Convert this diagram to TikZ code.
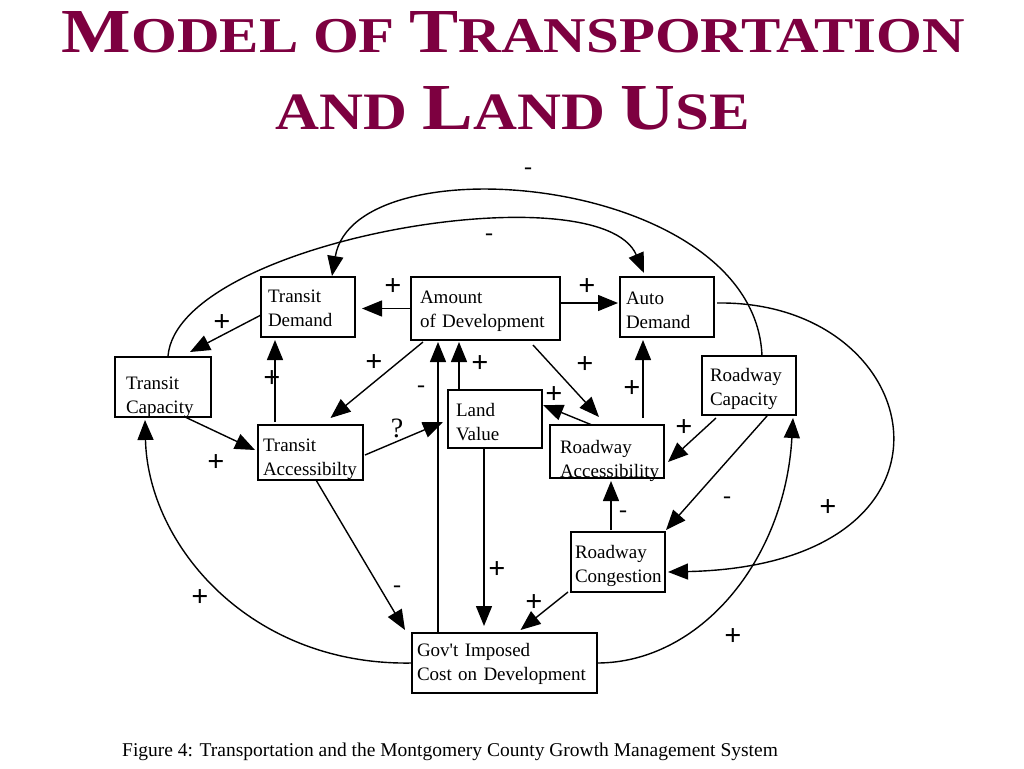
\documentclass[tikz,border=0pt]{standalone}
\usepackage{fontspec}
\setmainfont{Liberation Serif}[Ligatures=TeXOff]
\usepackage{graphicx}
\usetikzlibrary{arrows.meta,calc}
\definecolor{titlered}{RGB}{125,0,64}
\newcommand{\TitleCap}[1]{{\fontsize{50}{50}\selectfont #1}}
\newcommand{\TitleSc}[1]{{\fontsize{40}{40}\selectfont #1}}
\tikzset{
  factor/.style n args={4}{rectangle, draw, line width=2.2pt, anchor=north west, outer sep=0pt,
    inner xsep=1pt, inner ysep=0pt, minimum width=#1pt, minimum height=#2pt,
    text width={(#1-2*#3)*1pt}, align=left, text height={(20+#4)*1pt}, text depth={(20-#4)*1pt},
    font=\fontsize{19}{24}\selectfont},
  link/.style={line width=1.4pt, -{Triangle[length=20pt,width=16pt]}},
  poslabel/.style={font=\fontsize{30}{30}\selectfont\bfseries, inner sep=0pt},
  neglabel/.style={font=\fontsize{24}{24}\selectfont, inner sep=0pt},
}

\begin{document}
\begin{tikzpicture}[x=1pt,y=-1pt]
\fill[white] (0,0) rectangle (1024,768);
\useasboundingbox (0,0) rectangle (1024,768);

% title and caption
\node[inner sep=0pt, text=titlered] (title1) at (513.5,32.5)
  {\resizebox{903pt}{41pt}{\bfseries\TitleCap{M}\TitleSc{ODEL OF }\TitleCap{T}\TitleSc{RANSPORTATION}}};
\node[inner sep=0pt, text=titlered] (title2) at (513,108.5)
  {\resizebox{474pt}{43pt}{\bfseries\TitleSc{AND }\TitleCap{L}\TitleSc{AND }\TitleCap{U}\TitleSc{SE}}};
\node[anchor=base west, inner sep=0pt, font=\fontsize{19.5}{20}\selectfont] (caption) at (122,756)
  {Figure 4: Transportation and the Montgomery County Growth Management System};

% factors
\node[factor={94}{60}{7}{-4.5}] (tdemand) at (261,277) {Transit\\Demand};
\node[factor={149}{63}{9}{-5.5}] (amount) at (411,277) {Amount\\of Development};
\node[factor={94}{60}{6}{-3}] (ademand) at (620,277) {Auto\\Demand};
\node[factor={96}{60}{11}{2}] (tcap) at (115,357) {Transit\\Capacity};
\node[factor={94}{58}{8}{-3}] (land) at (448,390) {Land\\Value};
\node[factor={94}{59}{8}{-4.5}] (rcap) at (702,356) {Roadway\\Capacity};
\node[factor={105}{55}{5}{-1.5}] (tacc) at (258,425) {Transit\\Accessibilty};
\node[factor={114}{53}{10}{2}] (racc) at (550,425) {Roadway\\Accessibility};
\node[factor={94}{60}{4}{-4}] (rcong) at (571,532) {Roadway\\Congestion};
\node[factor={185}{60}{5}{-7}] (gov) at (412,633) {Gov't Imposed\\Cost on Development};

% straight links
\draw[link] (amount.west) -- ($(tdemand.east)+(7,1.5)$);
\draw[link] ($(amount.east)+(0,-5.5)$) -- ($(ademand.west)+(-2,-4)$);
\draw[link] ($(tdemand.west)+(0,8)$) -- ($(tcap.north)+(27,-5)$);
\draw[link] ($(tacc.north)+(-35.5,-3)$) -- ($(tdemand.south)+(-33,3)$);
\draw[link] ($(amount.south)+(-62.5,2)$) -- ($(tacc.north)+(20,-7)$);
\draw[link] ($(tcap.south)+(22,0)$) -- ($(tacc.west)+(-3,-2.5)$);
\draw[link] ($(tacc.east)+(2,2.5)$) -- ($(land.west)+(-5,3)$);
\draw[link] ($(land.north)+(-36,0)$) -- ($(amount.south)+(-26.5,2)$);
\draw[link] ($(gov.north)+(-66.5,0)$) -- ($(amount.south)+(-47.5,2)$);
\draw[link] ($(land.south)+(-11,0)$) -- ($(gov.north)+(-20.5,-7)$);
\draw[link] ($(amount.south)+(47.5,5)$) -- ($(racc.north)+(-8,-8)$);
\draw[link] ($(racc.north)+(-15,0)$) -- ($(land.east)+(1,-14)$);
\draw[link] ($(racc.north)+(36,-7)$) -- ($(ademand.south)+(-24,3)$);
\draw[link] ($(rcap.south)+(-33,3)$) -- ($(racc.east)+(4,10.5)$);
\draw[link] ($(rcap.south)+(18,1)$) -- ($(rcong.north east)+(1,-2)$);
\draw[link] ($(rcong.north)+(-7,-2)$) -- ($(racc.south)+(4,3)$);
\draw[link] ($(rcong.south west)+(-3,0)$) -- ($(gov.north)+(16,-3)$);
\draw[link] ($(tacc.south)+(5.5,0)$) -- ($(gov.north west)+(-7,-3)$);

% curved links
\draw[link] (gov.west) .. controls (250,666) and (148,545) .. ($(tcap.south)+(-18,3)$);
\draw[link] (gov.east) .. controls (700,663) and (785,560) .. ($(rcap.south)+(44,3)$);
\draw[link] ($(ademand.east)+(3,-4)$) .. controls (930,300) and (985,565) .. ($(rcong.east)+(3,10)$);
\draw[link] ($(rcap.north)+(13,0)$) .. controls (755,175) and (355,140) .. ($(tdemand.north)+(24,-1)$);
\draw[link] ($(tcap.north)+(5,-1)$) .. controls (178,240) and (600,170) .. ($(ademand.north)+(-23,-4)$);

% signs
\node[poslabel] (s1) at (393,287) {+};
\node[poslabel] (s2) at (587,287) {+};
\node[poslabel] (s3) at (222,323) {+};
\node[poslabel] (s4) at (272,379) {+};
\node[poslabel] (s5) at (374,363) {+};
\node[poslabel] (s6) at (216,463) {+};
\node[inner sep=0pt, font=\fontsize{28}{28}\selectfont] (s7) at (397,428) {?};
\node[poslabel] (s8) at (480,364) {+};
\node[neglabel] (s9) at (421,389) {-};
\node[poslabel] (s10) at (497,570) {+};
\node[poslabel] (s11) at (585,365) {+};
\node[poslabel] (s12) at (554,395) {+};
\node[poslabel] (s13) at (632,389) {+};
\node[poslabel] (s14) at (684,428) {+};
\node[neglabel] (s15) at (727,500) {-};
\node[neglabel] (s16) at (623,514) {-};
\node[poslabel] (s17) at (534,603) {+};
\node[neglabel] (s18) at (397,589) {-};
\node[poslabel] (s19) at (200,598) {+};
\node[poslabel] (s20) at (733,637) {+};
\node[poslabel] (s21) at (828,508) {+};
\node[neglabel] (s22) at (528,171) {-};
\node[neglabel] (s23) at (489,237) {-};
\end{tikzpicture}
\end{document}
